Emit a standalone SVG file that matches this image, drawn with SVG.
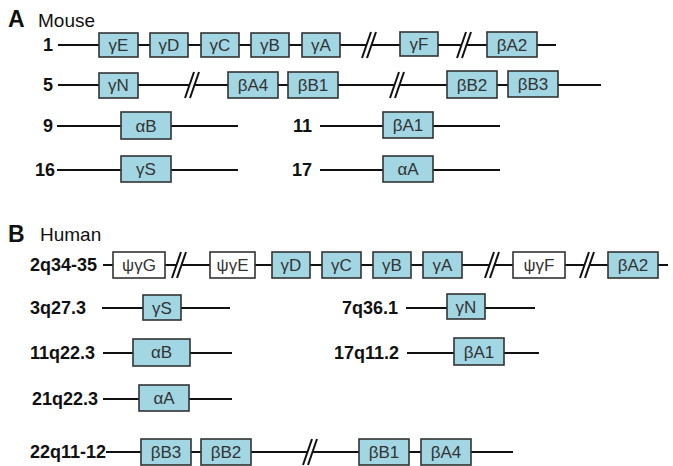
<svg xmlns="http://www.w3.org/2000/svg" xmlns:xlink="http://www.w3.org/1999/xlink" width="673" height="466" viewBox="0 0 673 466">
<style>
.ln{stroke:#111;stroke-width:2;fill:none}
.bx rect{fill:#a2d6e3;stroke:#333;stroke-width:1.6}
.bx.ps rect{fill:#fff}
.bx text{font-family:"Liberation Sans",Arial,sans-serif;font-size:17px;fill:#333;text-anchor:middle}
.lab{font-family:"Liberation Sans",Arial,sans-serif;font-size:18px;font-weight:bold;fill:#111;text-anchor:end}
.big{font-family:"Liberation Sans",Arial,sans-serif;font-size:23px;font-weight:bold;fill:#111}
.sec{font-family:"Liberation Sans",Arial,sans-serif;font-size:19px;fill:#111}
</style>
<defs>
<g id="brk">
<polygon points="0,13 9,-13 14,-13 5,13" fill="#fff"/>
<line x1="0" y1="13" x2="9" y2="-13" stroke="#111" stroke-width="2"/>
<line x1="5" y1="13" x2="14" y2="-13" stroke="#111" stroke-width="2"/>
</g>
</defs>

<text class="big" x="8" y="27">A</text>
<text class="sec" x="38" y="27">Mouse</text>
<text class="big" x="8" y="242">B</text>
<text class="sec" x="40" y="241">Human</text>

<g id="connectors">
<line class="ln" x1="58" y1="45" x2="556" y2="45"/>
<line class="ln" x1="58" y1="85" x2="601" y2="85"/>
<line class="ln" x1="57" y1="126" x2="238" y2="126"/>
<line class="ln" x1="57" y1="170" x2="238" y2="170"/>
<line class="ln" x1="320" y1="126" x2="500" y2="126"/>
<line class="ln" x1="320" y1="170" x2="500" y2="170"/>
<line class="ln" x1="103" y1="265" x2="668" y2="265"/>
<line class="ln" x1="102" y1="308" x2="230" y2="308"/>
<line class="ln" x1="406" y1="308" x2="535" y2="308"/>
<line class="ln" x1="103" y1="353" x2="232" y2="353"/>
<line class="ln" x1="407" y1="353" x2="539" y2="353"/>
<line class="ln" x1="103" y1="399" x2="232" y2="399"/>
<line class="ln" x1="106" y1="452" x2="513" y2="452"/>
<use xlink:href="#brk" x="362" y="45"/>
<use xlink:href="#brk" x="457" y="45"/>
<use xlink:href="#brk" x="185" y="85"/>
<use xlink:href="#brk" x="390" y="85"/>
<use xlink:href="#brk" x="172" y="265"/>
<use xlink:href="#brk" x="485" y="265"/>
<use xlink:href="#brk" x="580" y="265"/>
<use xlink:href="#brk" x="303" y="452"/>
</g>

<g id="labels">
<text class="lab" x="53" y="51">1</text>
<text class="lab" x="53" y="91">5</text>
<text class="lab" x="53" y="132">9</text>
<text class="lab" x="55" y="176">16</text>
<text class="lab" x="312" y="132">11</text>
<text class="lab" x="312" y="176">17</text>
<text class="lab" x="97" y="271">2q34-35</text>
<text class="lab" x="86" y="314">3q27.3</text>
<text class="lab" x="398" y="314">7q36.1</text>
<text class="lab" x="95" y="359">11q22.3</text>
<text class="lab" x="399" y="359">17q11.2</text>
<text class="lab" x="98" y="405">21q22.3</text>
<text class="lab" x="106" y="458">22q11-12</text>
</g>

<g id="m1-gE" class="bx"><rect x="99" y="33" width="39" height="24"/><text x="118.5" y="51">γE</text></g>
<g id="m1-gD" class="bx"><rect x="150" y="33" width="38" height="24"/><text x="169" y="51">γD</text></g>
<g id="m1-gC" class="bx"><rect x="201" y="33" width="38" height="24"/><text x="220" y="51">γC</text></g>
<g id="m1-gB" class="bx"><rect x="251" y="33" width="38" height="24"/><text x="270" y="51">γB</text></g>
<g id="m1-gA" class="bx"><rect x="302" y="33" width="38" height="24"/><text x="321" y="51">γA</text></g>
<g id="m1-gF" class="bx"><rect x="400" y="32" width="38" height="24"/><text x="419" y="50">γF</text></g>
<g id="m1-bA2" class="bx"><rect x="487" y="32" width="50" height="25"/><text x="512" y="51">βA2</text></g>

<g id="m5-gN" class="bx"><rect x="99" y="73" width="39" height="25"/><text x="118.5" y="91">γN</text></g>
<g id="m5-bA4" class="bx"><rect x="228" y="72" width="50" height="26"/><text x="253" y="91">βA4</text></g>
<g id="m5-bB1" class="bx"><rect x="288" y="72" width="50" height="26"/><text x="313" y="91">βB1</text></g>
<g id="m5-bB2" class="bx"><rect x="447" y="71" width="50" height="27"/><text x="472" y="91">βB2</text></g>
<g id="m5-bB3" class="bx"><rect x="508" y="71" width="50" height="26"/><text x="533" y="90">βB3</text></g>

<g id="m9-aB" class="bx"><rect x="121" y="112" width="50" height="27"/><text x="146" y="132">αB</text></g>
<g id="m16-gS" class="bx"><rect x="121" y="156" width="50" height="26"/><text x="146" y="175">γS</text></g>
<g id="m11-bA1" class="bx"><rect x="383" y="112" width="50" height="26"/><text x="408" y="131">βA1</text></g>
<g id="m17-aA" class="bx"><rect x="383" y="156" width="50" height="26"/><text x="408" y="175">αA</text></g>

<g id="h2-pgG" class="bx ps"><rect x="113" y="252" width="52" height="26"/><text x="139" y="271">ψγG</text></g>
<g id="h2-pgE" class="bx ps"><rect x="210" y="252" width="45" height="26"/><text x="232.5" y="271">ψγE</text></g>
<g id="h2-gD" class="bx"><rect x="272" y="252" width="38" height="26"/><text x="291" y="271">γD</text></g>
<g id="h2-gC" class="bx"><rect x="322" y="252" width="39" height="26"/><text x="341.5" y="271">γC</text></g>
<g id="h2-gB" class="bx"><rect x="373" y="252" width="38" height="26"/><text x="392" y="271">γB</text></g>
<g id="h2-gA" class="bx"><rect x="423" y="252" width="39" height="26"/><text x="442.5" y="271">γA</text></g>
<g id="h2-pgF" class="bx ps"><rect x="513" y="252" width="52" height="26"/><text x="539" y="271">ψγF</text></g>
<g id="h2-bA2" class="bx"><rect x="608" y="252" width="50" height="26"/><text x="633" y="271">βA2</text></g>

<g id="h3-gS" class="bx"><rect x="143" y="295" width="38" height="25"/><text x="162" y="314">γS</text></g>
<g id="h7-gN" class="bx"><rect x="447" y="294" width="38" height="25"/><text x="466" y="313">γN</text></g>
<g id="h11-aB" class="bx"><rect x="133" y="339" width="57" height="27"/><text x="161.5" y="358">αB</text></g>
<g id="h17-bA1" class="bx"><rect x="454" y="338" width="50" height="27"/><text x="479" y="358">βA1</text></g>
<g id="h21-aA" class="bx"><rect x="139" y="385" width="50" height="26"/><text x="164" y="404">αA</text></g>

<g id="h22-bB3" class="bx"><rect x="141" y="439" width="50" height="26"/><text x="166" y="458">βB3</text></g>
<g id="h22-bB2" class="bx"><rect x="201" y="439" width="50" height="26"/><text x="226" y="458">βB2</text></g>
<g id="h22-bB1" class="bx"><rect x="359" y="439" width="50" height="26"/><text x="384" y="458">βB1</text></g>
<g id="h22-bA4" class="bx"><rect x="421" y="439" width="50" height="26"/><text x="446" y="458">βA4</text></g>
</svg>
